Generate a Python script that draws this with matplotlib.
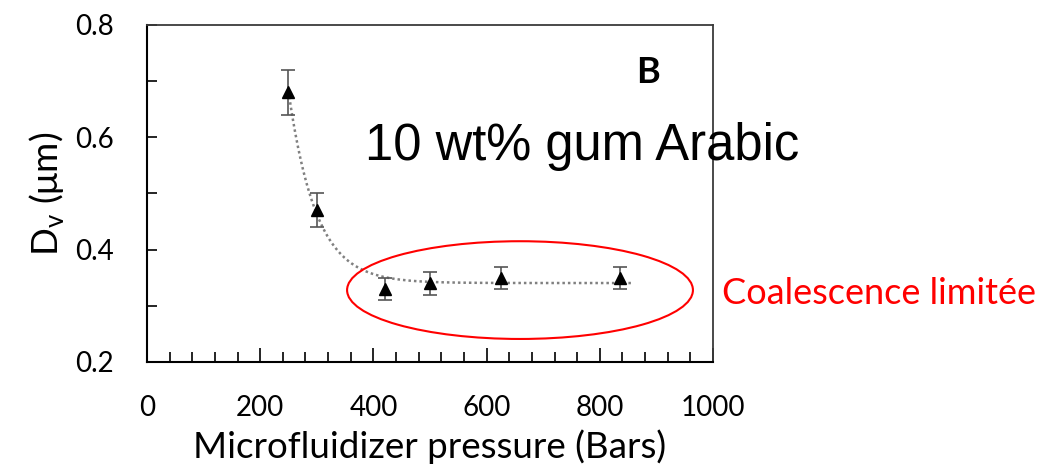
import matplotlib
matplotlib.use("Agg")
import matplotlib.pyplot as plt
from matplotlib.patches import Ellipse
import numpy as np

# data
pressure = np.array([250, 300, 420, 500, 625, 835])
dv = np.array([0.68, 0.47, 0.33, 0.34, 0.35, 0.35])
dv_err = np.array([0.04, 0.03, 0.02, 0.02, 0.02, 0.02])

x_ticks = [0, 200, 400, 600, 800, 1000]
y_ticks = [0.2, 0.4, 0.6, 0.8]

plt.rcParams['font.family'] = ['Lato', 'DejaVu Sans']

fig = plt.figure(figsize=(10.59, 4.66), dpi=100)
ax = fig.add_axes([0.1388, 0.2232, 0.5345, 0.7232])

# trendline: y = a + b*exp(-k x), fitted to the points
best = None
for k in np.linspace(0.005, 0.06, 300):
    A = np.column_stack([np.ones_like(pressure, dtype=float), np.exp(-k * pressure)])
    coef, res, _, _ = np.linalg.lstsq(A, dv, rcond=None)
    err = np.sum((A @ coef - dv) ** 2)
    if best is None or err < best[0]:
        best = (err, k, coef)
_, k, coef = best
xs = np.linspace(pressure[0], 855, 300)
ys = coef[0] + coef[1] * np.exp(-k * xs)
ax.plot(xs, ys, color='#808080', lw=1.8, ls=(0, (1, 1.2)), zorder=2)

ax.errorbar(pressure, dv, yerr=dv_err, fmt='^', color='black', ms=9,
            ecolor='#555555', elinewidth=1.2, capsize=5, capthick=1.2, zorder=3)

ax.add_patch(Ellipse((659, 0.328), 611, 0.174, fill=False, edgecolor='#ff0000',
                     lw=1.5, clip_on=False, zorder=4))

ax.set_xlim(0, 1000)
ax.set_ylim(0.2, 0.8)
ax.set_xticks(x_ticks)
ax.set_yticks(y_ticks)
ax.set_xticks(np.arange(0, 1001, 40), minor=True)
ax.set_yticks([0.3, 0.5, 0.7], minor=True)
ax.tick_params(axis='both', which='both', direction='in', width=1.2, labelsize=20)
ax.tick_params(axis='x', which='major', length=10, pad=24)
ax.tick_params(axis='x', which='minor', length=7)
ax.tick_params(axis='y', which='both', length=7, pad=24)
for side in ['top', 'right']:
    ax.spines[side].set_linewidth(1.3)
    ax.spines[side].set_color('#3a3a3a')
ax.spines['left'].set_linewidth(1.5)
ax.spines['bottom'].set_linewidth(1.5)

ax.set_xlabel('Microfluidizer pressure (Bars)', fontsize=26.5, labelpad=6)
ax.set_ylabel(r'D$_\mathregular{v}$ ($\mathregular{\mu}$m)', fontsize=26.5, labelpad=6)

ax.text(0.885, 0.86, 'B', transform=ax.transAxes, fontsize=26, fontweight='bold',
        ha='center', va='center')
fig.text(0.55, 0.685, '10 wt% gum Arabic', fontsize=36.5, family='Liberation Sans',
         ha='center', va='center')
fig.text(0.682, 0.371, 'Coalescence limitée', fontsize=26, color='#ff0000',
         ha='left', va='center')

fig.savefig('out.png', dpi=100)
